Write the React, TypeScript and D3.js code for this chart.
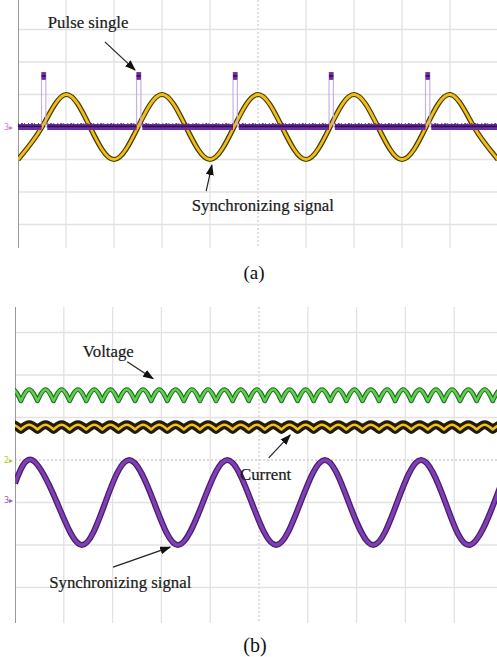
import * as d3 from "d3";

// ---------- data (time and level in scope divisions) ----------
// panel (a): synchronizing signal extrema / zero crossings
const syncAPoints: [number, number][] = [
  [0, -1], [0.5, 0], [1, 1], [1.5, 0], [2, -1], [2.5, 0], [3, 1], [3.5, 0],
  [4, -1], [4.5, 0], [5, 1], [5.5, 0], [6, -1], [6.5, 0], [7, 1], [7.5, 0],
  [8, -1], [8.5, 0], [9, 1], [9.5, 0], [10, -1],
];
// panel (a): pulse signal
const pulseStarts = [0.49, 2.47, 4.48, 6.48, 8.49];
const pulseWidth = 0.09;
const pulseTop = 1.69;
const pulseCapBottom = 1.45;
const pulseGap = 0.12;

// panel (b): synchronizing signal
const syncBPoints: [number, number][] = [
  [0, -0.55], [0.35, 0], [0.86, -1], [1.37, -2], [1.85, -1], [2.34, 0],
  [2.85, -1], [3.34, -2], [3.85, -1], [4.35, 0], [4.85, -1], [5.35, -2],
  [5.85, -1], [6.35, 0], [6.84, -1], [7.34, -2], [7.83, -1], [8.32, 0],
  [8.82, -1], [9.32, -2], [9.82, -1], [10, -0.46],
];
// panel (b): ripple cusps of the voltage / current traces
const rippleCusps = [
  -0.21, 0.12, 0.46, 0.79, 1.12, 1.46, 1.79, 2.12, 2.46, 2.79, 3.12, 3.46,
  3.79, 4.12, 4.46, 4.79, 5.12, 5.46, 5.79, 6.12, 6.46, 6.79, 7.12, 7.46,
  7.79, 8.12, 8.46, 8.79, 9.12, 9.46, 9.79, 10.12,
];
const voltageLevels = { lo: 1.39, hi: 1.66 };
const currentLevels = { lo: 0.72, hi: 0.83 };

const gridTicksX = d3.range(0, 11);
const gridTicksY = d3.range(-4, 5);

type Note = { text: string; tx: number; ty: number; from: [number, number]; to: [number, number] };
const notesA: Note[] = [
  { text: "Pulse single", tx: 0.62, ty: 3.05, from: [1.81, 2.62], to: [2.44, 1.75] },
  { text: "Synchronizing signal", tx: 3.62, ty: -2.58, from: [3.92, -1.97], to: [4.04, -1.17] },
];
const notesB: Note[] = [
  { text: "Voltage", tx: 1.39, ty: 2.42, from: [2.3, 2.31], to: [2.83, 1.91] },
  { text: "Current", tx: 4.61, ty: -0.47, from: [5.2, 0.05], to: [5.64, 0.59] },
  { text: "Synchronizing signal", tx: 0.7, ty: -3.01, from: [2.01, -2.52], to: [3.18, -2.05] },
];

const W = 497;
const H = 657;
const serif = "'Liberation Serif', 'Times New Roman', serif";

type Scale = d3.ScaleLinear<number, number>;

function Grid({ x, y, top, bottom }: { x: Scale; y: Scale; top: number; bottom: number }) {
  return (
    <g>
      {gridTicksX.map((t) => (
        <line key={"vx" + t} x1={x(t)} x2={x(t)} y1={top} y2={bottom}
          stroke={t === 5 ? "#cfcfcf" : "#e2e2e2"} strokeWidth={1.3}
          strokeDasharray={t === 5 ? "2,2" : undefined} />
      ))}
      {gridTicksY.map((v) => (
        <line key={"hy" + v} x1={x(0)} x2={W} y1={y(v)} y2={y(v)}
          stroke={v === 0 ? "#cfcfcf" : "#e2e2e2"} strokeWidth={1.3}
          strokeDasharray={v === 0 ? "2,2" : undefined} />
      ))}
      <line x1={x(0)} x2={x(0)} y1={top} y2={bottom} stroke="#9a9a9a" strokeWidth={2} />
    </g>
  );
}

function Notes({ notes, x, y }: { notes: Note[]; x: Scale; y: Scale }) {
  return (
    <g>
      {notes.map((n) => (
        <g key={n.text + n.tx}>
          <line x1={x(n.from[0])} y1={y(n.from[1])} x2={x(n.to[0])} y2={y(n.to[1])}
            stroke="#222" strokeWidth={1.2} markerEnd="url(#arrow)" />
          <text x={x(n.tx)} y={y(n.ty)} fontFamily={serif} fontSize={16.8} fill="#1a1a1a"
            stroke="#1a1a1a" strokeWidth={0.2}>{n.text}</text>
        </g>
      ))}
    </g>
  );
}

function archPath(x: Scale, y: Scale, lo: number, hi: number) {
  const line = d3.line<[number, number]>()
    .x((d) => x(d[0]))
    .y((d) => y(d[1]))
    .curve(d3.curveMonotoneX);
  const parts: string[] = [];
  for (let i = 0; i < rippleCusps.length - 1; i++) {
    const c0 = rippleCusps[i];
    const c1 = rippleCusps[i + 1];
    parts.push(line([[c0, lo], [(c0 + c1) / 2, hi], [c1, lo]]) || "");
  }
  return parts.join("");
}

export default function App() {
  // panel (a)
  const xA = d3.scaleLinear().domain([0, 10]).range([18, 498]);
  const yA = d3.scaleLinear().domain([-4, 4]).range([257, -3]);
  // panel (b)
  const xB = d3.scaleLinear().domain([0, 10]).range([15, 503]);
  const yB = d3.scaleLinear().domain([-4, 4]).range([630, 290]);

  const curveLineA = d3.line<[number, number]>().x((d) => xA(d[0])).y((d) => yA(d[1])).curve(d3.curveNatural);
  const curveLineB = d3.line<[number, number]>().x((d) => xB(d[0])).y((d) => yB(d[1])).curve(d3.curveNatural);

  const syncA = curveLineA(syncAPoints) || "";
  const syncB = curveLineB(syncBPoints) || "";

  // baseline segments of the pulse trace, broken after each pulse
  const segStarts = [0, ...pulseStarts.map((p) => p + pulseGap)];
  const segEnds = [...pulseStarts, 10];

  const voltage = archPath(xB, yB, voltageLevels.lo, voltageLevels.hi);
  const current = archPath(xB, yB, currentLevels.lo, currentLevels.hi);

  return (
    <svg width={W} height={H} style={{ position: "absolute", left: 0, top: 0, background: "#fff" }}>
      <defs>
        <marker id="arrow" markerUnits="userSpaceOnUse" markerWidth={11} markerHeight={8}
          refX={10} refY={4} orient="auto">
          <path d="M0,0 L11,4 L0,8 z" fill="#111" />
        </marker>
        <clipPath id="clipA"><rect x={xA(0)} y={0} width={W - xA(0)} height={248} /></clipPath>
        <clipPath id="clipB"><rect x={xB(0)} y={307} width={W - xB(0)} height={316} /></clipPath>
      </defs>

      {/* ---------- (a) ---------- */}
      <g clipPath="url(#clipA)">
        <Grid x={xA} y={yA} top={0} bottom={248} />
        {/* synchronizing signal */}
        <path d={syncA} fill="none" stroke="#4a3800" strokeWidth={5.2} />
        <path d={syncA} fill="none" stroke="#eebf1c" strokeWidth={2.8} />
        {/* pulse trace */}
        {pulseStarts.map((p) => (
          <g key={p}>
            <line x1={xA(p)} x2={xA(p)} y1={yA(0)} y2={yA(pulseTop)} stroke="#c9b0df" strokeWidth={1.2} />
            <line x1={xA(p + pulseWidth)} x2={xA(p + pulseWidth)} y1={yA(0)} y2={yA(pulseTop)} stroke="#c9b0df" strokeWidth={1.2} />
            <rect x={xA(p)} y={yA(pulseTop)} width={xA(p + pulseWidth) - xA(p)}
              height={yA(pulseCapBottom) - yA(pulseTop)} fill="#6b2f9c" />
            <line x1={xA(p)} x2={xA(p + pulseWidth)} y1={yA((pulseTop + pulseCapBottom) / 2)}
              y2={yA((pulseTop + pulseCapBottom) / 2)} stroke="#2e0a4a" strokeWidth={1.5} />
          </g>
        ))}
        {segStarts.map((s, i) => (
          <g key={"seg" + i}>
            <line x1={xA(s)} x2={xA(segEnds[i])} y1={yA(0)} y2={yA(0)} stroke="#6d2fa2" strokeWidth={6} />
            <line x1={xA(s)} x2={xA(segEnds[i])} y1={yA(0.02)} y2={yA(0.02)} stroke="#34104f" strokeWidth={1.6} />
            <line x1={xA(s)} x2={xA(segEnds[i])} y1={yA(0.1)} y2={yA(0.1)} stroke="#3a1458" strokeWidth={1}
              strokeDasharray="1,2,2,1,1,3" />
          </g>
        ))}
      </g>
      <text x={4} y={yA(0) + 3} fontFamily="DejaVu Sans" fontSize={8} fill="#d77ac8">3▸</text>
      <Notes notes={notesA} x={xA} y={yA} />
      <text x={254} y={279} textAnchor="middle" fontFamily={serif} fontSize={19} fill="#111">(a)</text>

      {/* ---------- (b) ---------- */}
      <g clipPath="url(#clipB)">
        <Grid x={xB} y={yB} top={307} bottom={623} />
        <path d={current} fill="none" stroke="#231b06" strokeWidth={9} strokeLinecap="round" strokeLinejoin="round" />
        <path d={current} fill="none" stroke="#f0c419" strokeWidth={2.6} strokeLinecap="round" />
        <path d={voltage} fill="none" stroke="#1f6a22" strokeWidth={4.6} strokeLinecap="round" strokeLinejoin="round" />
        <path d={voltage} fill="none" stroke="#5fd04e" strokeWidth={2.4} strokeLinecap="round" />
        <path d={syncB} fill="none" stroke="#4b1d70" strokeWidth={6} />
        <path d={syncB} fill="none" stroke="#7e40b3" strokeWidth={3.4} />
      </g>
      <text x={4} y={yB(0) + 3} fontFamily="DejaVu Sans" fontSize={8} fill="#b8c62a">2▸</text>
      <text x={4} y={yB(-0.95) + 3} fontFamily="DejaVu Sans" fontSize={8} fill="#9a5ab8">3▸</text>
      <Notes notes={notesB} x={xB} y={yB} />
      <text x={255} y={652} textAnchor="middle" fontFamily={serif} fontSize={20} fill="#111">(b)</text>
    </svg>
  );
}
